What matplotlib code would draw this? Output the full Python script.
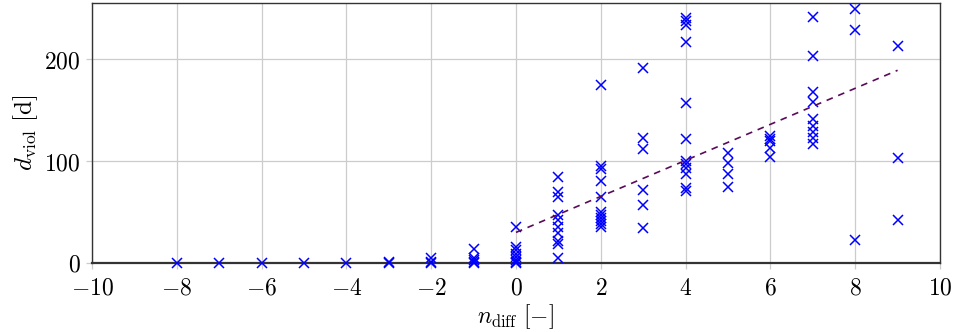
import matplotlib
matplotlib.use("Agg")
import matplotlib.pyplot as plt
import numpy as np

plt.rcParams['mathtext.fontset'] = 'cm'
plt.rcParams['font.family'] = ['DejaVu Serif']

# data: n_diff (x) -> d_viol values
n_diff_groups = [-8, -7, -6, -5, -4, -3, -2, -1, 0, 1, 2, 3, 4, 5, 6, 7, 8, 9]
d_viol_groups = [
    [0],
    [0],
    [0],
    [0],
    [0],
    [0, 1],
    [5, 1, 0],
    [14, 5, 3, 1, 0],
    [35, 16, 13, 9, 6, 3, 1, 0],
    [84, 70, 65, 47, 42, 35, 29, 22, 19, 5],
    [175, 95, 92, 80, 65, 50, 47, 44, 41, 38, 35],
    [191, 123, 112, 72, 57, 34],
    [240, 237, 233, 217, 157, 122, 100, 97, 93, 87, 74, 71],
    [108, 98, 87, 75],
    [125, 122, 120, 113, 104],
    [241, 203, 168, 158, 141, 134, 128, 123, 117],
    [249, 229, 23],
    [213, 103, 42],
]
trend_x = [0, 9]
trend_y = [30, 189]

xs = []
ys = []
for n, vals in zip(n_diff_groups, d_viol_groups):
    for v in vals:
        xs.append(n)
        ys.append(v)

fig = plt.figure(figsize=(9.57, 3.32), dpi=100)
ax = fig.add_axes([92/957, 1-263/332, (940-92)/957, (263-3)/332])

ax.grid(True, color='#cccccc', linewidth=0.9, zorder=0)
ax.set_axisbelow(True)
ax.plot(xs, ys, linestyle='none', marker='x', color='#0000ff', markersize=7,
        markeredgewidth=1.1, zorder=3, clip_on=False)
ax.plot(trend_x, trend_y, linestyle=(0, (4, 3.5)), color='#5a0a5a', linewidth=1.2, zorder=4)

ax.set_xlim(-10, 10)
ax.set_ylim(0, 255)
xt = [-10, -8, -6, -4, -2, 0, 2, 4, 6, 8, 10]
ax.set_xticks(xt)
ax.set_xticklabels([r'$%d$' % t if t >= 0 else r'$-%d$' % (-t) for t in xt])
yt = [0, 100, 200]
ax.set_yticks(yt)
ax.set_yticklabels([r'$%d$' % t for t in yt])
ax.tick_params(axis='both', direction='out', length=4, color='#cccccc', width=0.9,
               labelsize=17)
ax.tick_params(axis='x', pad=6)
ax.tick_params(axis='y', pad=4)
for s in ax.spines.values():
    s.set_color('#333333')
    s.set_linewidth(1.0)
ax.spines['bottom'].set_linewidth(1.6)

ax.set_xlabel(r'$n_{\mathrm{diff}}\ [-]$', fontsize=17, labelpad=2)
ax.set_ylabel(r'$d_{\mathrm{viol}}\ [\mathrm{d}]$', fontsize=18, labelpad=3)

fig.savefig('out.png', dpi=100)
